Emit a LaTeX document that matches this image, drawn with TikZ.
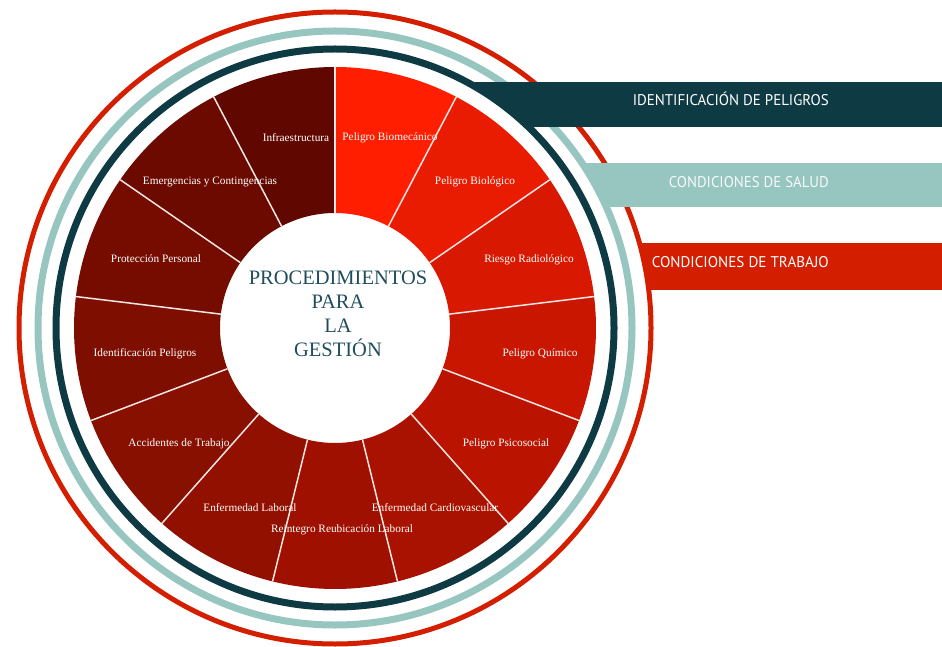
\documentclass[tikz,border=0pt]{standalone}
\usepackage{fontspec}
\usepackage{graphicx}
\setmainfont{Liberation Serif}
\newfontfamily\barfont{PT Sans}
\definecolor{navyc}{HTML}{0E3A44}
\definecolor{tealc}{HTML}{97C6C0}
\definecolor{redc}{HTML}{D41E00}
\definecolor{centerc}{HTML}{1F4D5C}
\definecolor{divc}{HTML}{F5E6E6}
\definecolor{segA}{HTML}{FF1E00}
\definecolor{segB}{HTML}{E91B00}
\definecolor{segC}{HTML}{D81800}
\definecolor{segD}{HTML}{C81600}
\definecolor{segE}{HTML}{BA1400}
\definecolor{segF}{HTML}{AA1200}
\definecolor{segG}{HTML}{A01000}
\definecolor{segH}{HTML}{921000}
\definecolor{segI}{HTML}{881000}
\definecolor{segJ}{HTML}{7E0E00}
\definecolor{segK}{HTML}{760C00}
\definecolor{segL}{HTML}{6C0A00}
\definecolor{segM}{HTML}{600800}
\tikzset{
  seglabel/.style={text=white, font=\fontsize{11.3}{13}\selectfont, inner sep=0pt},
  divider/.style={draw=divc, line width=1.5pt},
  bartext/.style={font=\barfont\fontsize{15.5}{17}\selectfont, inner sep=0pt},
  centertext/.style={text=centerc, align=center, font=\fontsize{20.5}{24}\selectfont, inner sep=0pt}
}
\begin{document}
\begin{tikzpicture}[x=1pt,y=1pt]
\useasboundingbox (0,0) rectangle (942,646);
\coordinate (C) at (335,318);
% outer rings
\draw[redc, line width=5pt] (C) circle[radius=316];
\draw[tealc, line width=7pt] (C) circle[radius=297];
% bars
\begin{scope}
  \clip (300,356) rectangle (942,402);
  \fill[redc, even odd rule] (0,0) rectangle (942,646) (C) circle[radius=316];
\end{scope}
\begin{scope}
  \clip (300,439) rectangle (942,482);
  \fill[tealc, even odd rule] (0,0) rectangle (942,646) (C) circle[radius=297];
\end{scope}
\begin{scope}
  \clip (300,519) rectangle (942,563);
  \fill[navyc, even odd rule] (0,0) rectangle (942,646) (C) circle[radius=279];
\end{scope}
\draw[navyc, line width=7pt] (C) circle[radius=279];
% wheel segments
\foreach \k/\col in {0/segA,1/segB,2/segC,3/segD,4/segE,5/segF,6/segG,7/segH,8/segI,9/segJ,10/segK,11/segL,12/segM}{
  \pgfmathsetmacro\aa{90-\k*360/13}
  \pgfmathsetmacro\bb{90-(\k+1)*360/13}
  \fill[\col] ([shift={(\aa:261)}]C) arc[start angle=\aa, end angle=\bb, radius=261]
     -- ([shift={(\bb:115)}]C) arc[start angle=\bb, end angle=\aa, radius=115] -- cycle;
}
\foreach \k in {0,...,12}{
  \pgfmathsetmacro\aa{90-\k*360/13}
  \draw[divider] ([shift={(\aa:115)}]C) -- ([shift={(\aa:261)}]C);
}
% labels
\node[seglabel] (l1) at (296,508) {Infraestructura};
\node[seglabel] (l2) at (390,508) {Peligro Biomecánico};
\node[seglabel] (l3) at (475,464) {Peligro Biológico};
\node[seglabel] (l4) at (529,386) {Riesgo Radiológico};
\node[seglabel] (l5) at (540,292) {Peligro Químico};
\node[seglabel] (l6) at (506,202) {Peligro Psicosocial};
\node[seglabel] (l7) at (435,138) {Enfermedad Cardiovascular};
\node[seglabel] (l8) at (342,116) {Reintegro Reubicación Laboral};
\node[seglabel] (l9) at (250,138) {Enfermedad Laboral};
\node[seglabel] (l10) at (179,202) {Accidentes de Trabajo};
\node[seglabel] (l11) at (145,292) {Identificación Peligros};
\node[seglabel] (l12) at (156,387) {Protección Personal};
\node[seglabel] (l13) at (210,464) {Emergencias y Contingencias};
% center
\node[centertext] (center) at (338,332) {PROCEDIMIENTOS\\PARA\\LA\\GESTIÓN};
% bar texts
\node[bartext, text=white, anchor=base east] (b1) at (829,540) {\resizebox{196pt}{\height}{IDENTIFICACIÓN DE PELIGROS}};
\node[bartext, text=white!92!tealc, anchor=base east] (b2) at (829,458) {\resizebox{160pt}{\height}{CONDICIONES DE SALUD}};
\node[bartext, text=white, anchor=base east] (b3) at (829,378) {\resizebox{177pt}{\height}{CONDICIONES DE TRABAJO}};
\end{tikzpicture}
\end{document}
